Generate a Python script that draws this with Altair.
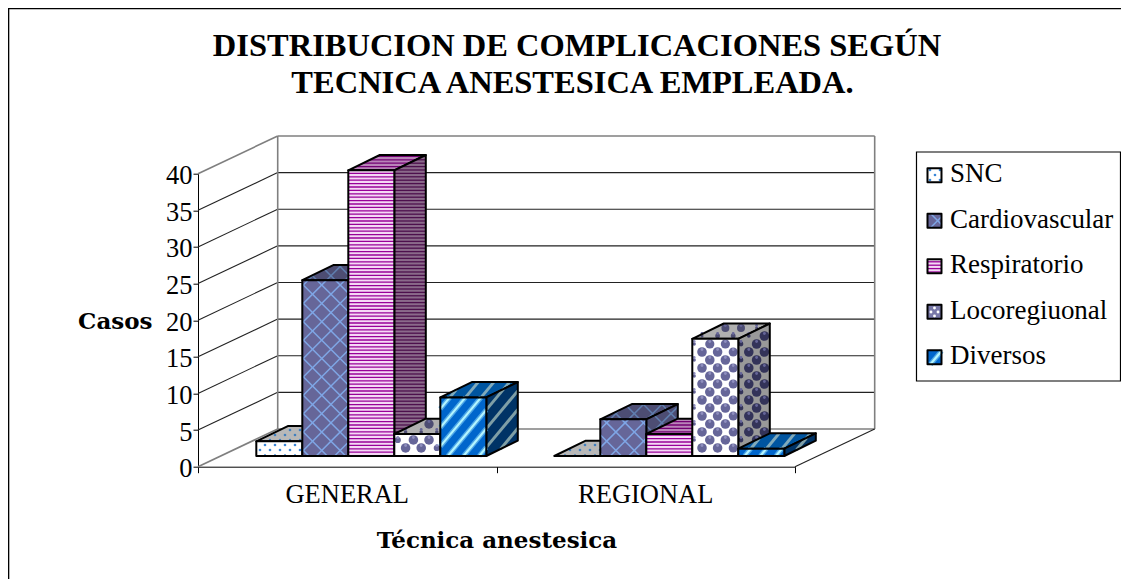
import altair as alt

# ---- chart values ----
categories = ["GENERAL", "REGIONAL"]
series = ["SNC", "Cardiovascular", "Respiratorio", "Locoregiuonal", "Diversos"]
general = [2, 24, 39, 3, 8]
regional = [0, 5, 3, 16, 1]
ticks = [0, 5, 10, 15, 20, 25, 30, 35, 40]
title_lines = ["DISTRIBUCION DE COMPLICACIONES SEGÚN", "TECNICA ANESTESICA EMPLEADA."]

# ---- projection constants (page pixels) ----
X0, Y0 = 198.0, 466.7      # front floor origin
CAT_PX, VAL_PX = 298.5, 7.325
WALL_DX, WALL_DY = 79.7, 37.7
BAR_W, BAR_DX, BAR_DY = 46.0, 31.5, 15.3
BAR_BASE = 456.0
BAR_START = [256.3, 554.3]
SERIF = "Liberation Serif"


def ux(px):
    return (px - X0) / CAT_PX


def uy(py):
    return (Y0 - py) / VAL_PX


xs = alt.Scale(domain=[0, 2], nice=False, zero=False)
ys = alt.Scale(domain=[0, 40], nice=False, zero=False)


def enc_x(f="x", **k):
    return alt.X(f + ":Q", scale=xs, axis=None, **k)


def enc_y(f="y", **k):
    return alt.Y(f + ":Q", scale=ys, axis=None, **k)


def rules(segs, color, width, **mk):
    vals = [{"x": ux(a[0]), "y": uy(a[1]), "x2": ux(b[0]), "y2": uy(b[1])} for a, b in segs]
    return alt.Chart(alt.Data(values=vals)).mark_rule(color=color, strokeWidth=width, **mk).encode(
        x=enc_x(), y=enc_y(), x2="x2:Q", y2="y2:Q")


def envelope(poly):
    xv = sorted({round(p[0], 3) for p in poly})
    out = []
    n = len(poly)
    for x in xv:
        hits = []
        for i in range(n):
            a, b = poly[i], poly[(i + 1) % n]
            lo, hi = min(a[0], b[0]), max(a[0], b[0])
            if lo - 1e-3 <= x <= hi + 1e-3:
                if abs(b[0] - a[0]) < 1e-6:
                    hits += [a[1], b[1]]
                else:
                    hits.append(a[1] + (b[1] - a[1]) * (x - a[0]) / (b[0] - a[0]))
        out.append({"x": ux(x), "y": uy(min(hits)), "y2": uy(max(hits))})
    return out


def face(poly, fill, stroke=None, width=2.0):
    kw = {"stroke": stroke, "strokeWidth": width, "strokeJoin": "round"} if stroke else {}
    return alt.Chart(alt.Data(values=envelope(poly))).mark_area(
        fill=fill, interpolate="linear", opacity=1, **kw
    ).encode(x=enc_x(), y=enc_y(), y2="y2:Q")


def clip(p, d, poly):
    cx = sum(v[0] for v in poly) / len(poly)
    cy = sum(v[1] for v in poly) / len(poly)
    t0, t1 = -1e6, 1e6
    n = len(poly)
    for i in range(n):
        a, b = poly[i], poly[(i + 1) % n]
        nx, ny = -(b[1] - a[1]), b[0] - a[0]
        if nx * (cx - a[0]) + ny * (cy - a[1]) < 0:
            nx, ny = -nx, -ny
        den = nx * d[0] + ny * d[1]
        num = nx * (p[0] - a[0]) + ny * (p[1] - a[1])
        if abs(den) < 1e-9:
            if num < 0:
                return None
        elif den > 0:
            t0 = max(t0, -num / den)
        else:
            t1 = min(t1, -num / den)
    if t1 <= t0:
        return None
    return ((p[0] + d[0] * t0, p[1] + d[1] * t0), (p[0] + d[0] * t1, p[1] + d[1] * t1))


def hatch(poly, d, period, color, width):
    norm = (d[0] ** 2 + d[1] ** 2) ** 0.5
    d = (d[0] / norm, d[1] / norm)
    nrm = (-d[1], d[0])
    cs = [v[0] * nrm[0] + v[1] * nrm[1] for v in poly]
    k = int(min(cs) // period)
    segs = []
    while k * period < max(cs):
        c = k * period
        s = clip((nrm[0] * c, nrm[1] * c), d, poly)
        if s:
            segs.append(s)
        k += 1
    return rules(segs, color, width, strokeCap="butt") if segs else None


def dots(poly, pitch_x, pitch_y, color, radius, shift=(0, 0)):
    """Staggered dots; a dot close to an edge shrinks so it stays inside the face."""
    xsv = [v[0] for v in poly]
    ysv = [v[1] for v in poly]
    n = len(poly)
    cx, cy = sum(xsv) / n, sum(ysv) / n
    pts = []
    row = int(min(ysv) // pitch_y)
    while row * pitch_y < max(ysv):
        y = row * pitch_y
        col = int(min(xsv) // pitch_x) - 1
        while col * pitch_x < max(xsv):
            x = col * pitch_x + (pitch_x / 2 if row % 2 else 0)
            dist = 1e9
            for i in range(n):
                a, b = poly[i], poly[(i + 1) % n]
                nx, ny = -(b[1] - a[1]), b[0] - a[0]
                ln = (nx * nx + ny * ny) ** 0.5
                if ln == 0:
                    continue
                nx, ny = nx / ln, ny / ln
                if nx * (cx - a[0]) + ny * (cy - a[1]) < 0:
                    nx, ny = -nx, -ny
                dist = min(dist, nx * (x - a[0]) + ny * (y - a[1]))
            r = min(radius, dist)
            if r > 0.9:
                pts.append({"x": ux(x + shift[0]), "y": uy(y + shift[1]), "s": 3.1416 * r * r})
            col += 1
        row += 1
    if not pts:
        return None
    return alt.Chart(alt.Data(values=pts)).mark_point(
        filled=True, color=color, opacity=1
    ).encode(x=enc_x(), y=enc_y(), size=alt.Size("s:Q", scale=None, legend=None))


STYLES = {
    "SNC": {
        "front": ("#FFFFFF", "#3A86D8"), "top": ("#B8B8B8", "#3F7FBF"), "side": ("#B8B8B8", "#3F7FBF"),
        "swatch": ("#FFFFFF", "#3A86D8"), "kind": "dots"},
    "Cardiovascular": {
        "front": ("#666699", "#7FA6E6"), "top": ("#4D4D73", "#5F7DAD"), "side": ("#4D4D73", "#5F7DAD"),
        "swatch": ("#666699", "#7FA6E6"), "kind": "lattice"},
    "Respiratorio": {
        "front": ("#F5D8F5", "#990099"), "top": ("#B884B8", "#730073"), "side": ("#8A6A8A", "#4D104D"),
        "swatch": ("#F5D8F5", "#990099"), "kind": "stripes"},
    "Locoregiuonal": {
        "front": ("#FFFFFF", "#666699"), "top": ("#B0B0B0", "#4D4D73"), "side": ("#999999", "#333359"),
        "swatch": ("#7878A8", "#FFFFFF"), "kind": "circles"},
    "Diversos": {
        "front": ("#0066CC", "#B3F5FF"), "top": ("#0055A0", "#80AABB"), "side": ("#003366", "#7F9FA6"),
        "swatch": ("#0066CC", "#B3F5FF"), "kind": "diag"},
}


def textured(poly, name, which, edge=True):
    st = STYLES[name]
    base, tex = st[which]
    kind = st["kind"]
    out = [face(poly, base)]
    if kind == "dots":
        t = dots(poly, 10, 5, tex, 1.5)
    elif kind == "lattice":
        t = [hatch(poly, (1, 1), 13, tex, 1.5), hatch(poly, (1, -1), 13, tex, 1.5)]
    elif kind == "stripes":
        t = hatch(poly, (1, 0), 3.4, tex, 1.3)
    elif kind == "circles" and which == "swatch":
        t = dots(poly, 7, 4, tex, 1.6)
    elif kind == "circles":
        hi = "#8F8FBF" if which == "front" else "#666699"
        t = [dots(poly, 15.6, 8, tex, 5.4), dots(poly, 15.6, 8, hi, 1.6, shift=(0, -2.5))]
    elif which in ("front", "swatch"):
        t = [hatch(poly, (1, -1.2), 12, "#4DA6E6", 5), hatch(poly, (1, -1.2), 12, tex, 2.2)]
    else:
        t = hatch(poly, (1, -1.2), 12, tex, 3)
    for item in (t if isinstance(t, list) else [t]):
        if item is not None:
            out.append(item)
    if edge:
        out.append(face(poly, "transparent", stroke="#000000"))
    return out


def bar_faces(x0, v):
    b = BAR_BASE
    t = b - v * VAL_PX
    w, dx, dy = BAR_W, BAR_DX, BAR_DY
    top = [(x0, t), (x0 + w, t), (x0 + w + dx, t - dy), (x0 + dx, t - dy)]
    side = [(x0 + w, t), (x0 + w + dx, t - dy), (x0 + w + dx, b - dy), (x0 + w, b)]
    front = [(x0, t), (x0 + w, t), (x0 + w, b), (x0, b)]
    return top, side, front


# ---- first layer carries the real axes ----
axis_layer = alt.Chart(alt.Data(values=[{"x": 0, "y": 0}])).mark_point(opacity=0).encode(
    x=alt.X("x:Q", scale=xs, axis=alt.Axis(
        values=[0, 1, 2], labels=False, grid=False, title="Técnica anestesica",
        titleFont="DejaVu Serif", titleFontSize=23, titleFontWeight="bold", titleColor="#000000",
        titleY=63, titleX=298.5,
        domainColor="#000000", tickColor="#000000", tickSize=6)),
    y=alt.Y("y:Q", scale=ys, axis=alt.Axis(
        values=ticks, grid=False, title="Casos", format="d",
        titleFont="DejaVu Serif", titleFontSize=23, titleFontWeight="bold", titleColor="#000000",
        titleAngle=0, titleAlign="right", titleBaseline="middle", titleX=-46, titleY=148,
        labelFont=SERIF, labelFontSize=26.5, labelColor="#000000", labelPadding=1, labelOffset=2,
        domainColor="#000000", tickColor="#000000", tickSize=5)),
)

layers = [axis_layer]

# outer frame: top and left edges only
layers.append(rules([((8, 8.5), (1121, 8.5)), ((8.5, 8), (8.5, 581))], "#000000", 1.6))


# walls
def wall_y(v):
    return Y0 - v * VAL_PX - WALL_DY


BX = X0 + WALL_DX
RX = X0 + 2 * CAT_PX
layers.append(rules([((BX, wall_y(v)), (RX + WALL_DX, wall_y(v))) for v in ticks[1:-1]], "#222222", 1.1))
layers.append(rules([((X0, Y0 - v * VAL_PX), (BX, wall_y(v))) for v in ticks[1:-1]], "#222222", 1.1))
layers.append(rules(
    [((BX, wall_y(40)), (RX + WALL_DX, wall_y(40))),
     ((BX, wall_y(0)), (RX + WALL_DX, wall_y(0))),
     ((BX, wall_y(0)), (BX, wall_y(40))),
     ((RX + WALL_DX, wall_y(0)), (RX + WALL_DX, wall_y(40))),
     ((X0, Y0), (BX, wall_y(0))),
     ((X0, Y0 - 40 * VAL_PX), (BX, wall_y(40)))], "#7F7F7F", 1.6))
layers.append(rules([((RX, Y0), (RX + WALL_DX, wall_y(0)))], "#222222", 1.1))

# bars
for i, vals in enumerate([general, regional]):
    for j, name in enumerate(series):
        x0 = BAR_START[i] + j * BAR_W
        top, side, front = bar_faces(x0, vals[j])
        layers += textured(top, name, "top")
        if vals[j] > 0:
            layers += textured(side, name, "side")
            layers += textured(front, name, "front")

# category labels
layers.append(alt.Chart(alt.Data(values=[
    {"x": i + 0.5, "label": c} for i, c in enumerate(categories)
])).mark_text(font=SERIF, fontSize=26.5, color="#000000", baseline="middle", align="center").encode(
    x=enc_x(), y=alt.value(321), text="label:N"))

# legend
LX0, LX1, LY0, LY1 = 916.5, 1120.5, 152.0, 381.0
layers.append(alt.Chart(alt.Data(values=[{"x": ux(LX0), "y": uy(LY0), "x2": ux(LX1), "y2": uy(LY1)}])).mark_rect(
    fill="#FFFFFF", stroke="#000000", strokeWidth=1.2
).encode(x=enc_x(), y=enc_y(), x2="x2:Q", y2="y2:Q"))
leg_text = []
for j, name in enumerate(series):
    cy = 175.3 + j * 45.5
    sq = [(927.5, cy - 7), (941.5, cy - 7), (941.5, cy + 7), (927.5, cy + 7)]
    layers += textured(sq, name, "swatch")
    leg_text.append({"x": ux(950), "y": uy(cy - 1), "label": name})
layers.append(alt.Chart(alt.Data(values=leg_text)).mark_text(
    font=SERIF, fontSize=27, color="#000000", baseline="middle", align="left"
).encode(x=enc_x(), y=enc_y(), text="label:N"))

# title
layers.append(alt.Chart(alt.Data(values=[
    {"x": ux(577), "y": uy(56), "label": title_lines[0]},
    {"x": ux(572.5), "y": uy(93), "label": title_lines[1]},
])).mark_text(
    font=SERIF, fontSize=32.5, fontWeight="bold", color="#000000", baseline="alphabetic", align="center"
).encode(x=enc_x(), y=enc_y(), text="label:N"))

chart = alt.layer(*layers).resolve_axis(x="independent", y="independent").properties(
    width=597, height=293,
    padding={"left": 190, "top": 165.7, "right": 326, "bottom": 112},
    autosize=alt.AutoSizeParams(type="none"),
).configure_view(stroke=None)

chart.save("out.html", embed_options={"renderer": "svg", "actions": False})
